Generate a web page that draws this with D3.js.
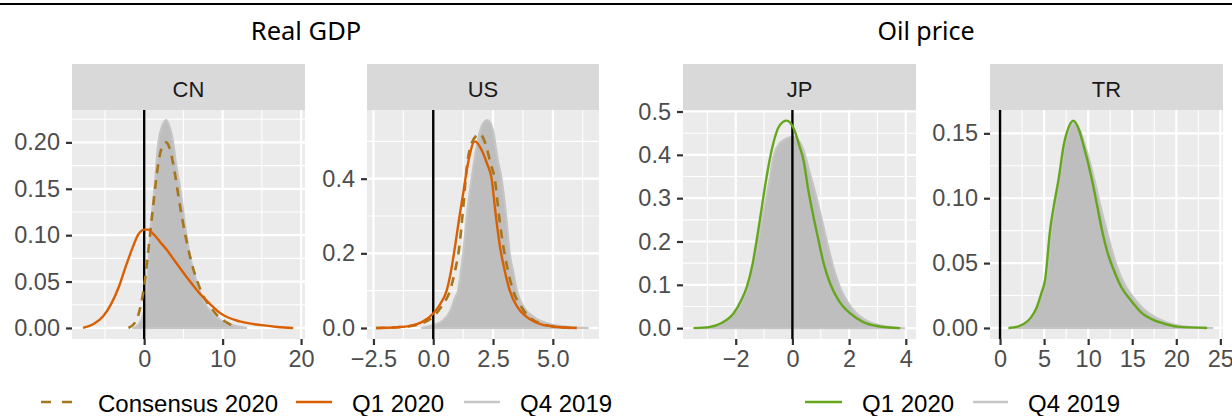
<!DOCTYPE html>
<html><head><meta charset="utf-8">
<script src="https://cdn.jsdelivr.net/npm/d3@7"></script>
<style>body{margin:0;background:#fff}svg{display:block}</style>
</head><body>
<svg id="c" width="1232" height="416"></svg>
<script>
// ---------------- DATA ----------------
const groupTitles = ["Real GDP", "Oil price"];
const panelNames = ["CN", "US", "JP", "TR"];
const legendLeft = ["Consensus 2020", "Q1 2020", "Q4 2019"];
const legendRight = ["Q1 2020", "Q4 2019"];

// tick values
const cnXTicks = [0, 10, 20];
const cnYTicks = [0, 0.05, 0.10, 0.15, 0.20];
const usXTicks = [-2.5, 0, 2.5, 5.0];
const usYTicks = [0, 0.2, 0.4];
const jpXTicks = [-2, 0, 2, 4];
const jpYTicks = [0, 0.1, 0.2, 0.3, 0.4, 0.5];
const trXTicks = [0, 5, 10, 15, 20, 25];
const trYTicks = [0, 0.05, 0.10, 0.15];

// CN densities [x, density]
const cnQ4 = [[-1.5,0],[-0.8,0.003],[-0.3,0.010],[0,0.020],[0.3,0.040],[0.5,0.065],[0.75,0.10],[1.0,0.125],[1.3,0.15],[1.8,0.20],[2.3,0.218],[2.8,0.224],[3.2,0.218],[3.7,0.20],[4.1,0.175],[4.6,0.15],[5.0,0.125],[5.4,0.10],[6.0,0.072],[6.7,0.05],[7.5,0.03],[8.5,0.018],[9.5,0.010],[11.0,0.004],[13.1,0]];
const cnCons = [[-2.0,0],[-1.0,0.008],[-0.5,0.022],[0,0.045],[0.4,0.073],[0.8,0.105],[1.1,0.128],[1.5,0.158],[1.8,0.177],[2.2,0.193],[2.8,0.200],[3.3,0.192],[3.9,0.167],[4.5,0.135],[5.2,0.102],[5.9,0.075],[6.7,0.052],[7.5,0.035],[8.4,0.023],[9.5,0.012],[10.5,0.006],[11.8,0]];
const cnQ1 = [[-7.8,0],[-6.5,0.004],[-5.2,0.013],[-4.2,0.026],[-3.2,0.045],[-2.4,0.065],[-1.5,0.086],[-0.8,0.100],[0,0.106],[0.5,0.106],[1.2,0.101],[2.0,0.093],[2.9,0.084],[4.0,0.071],[5.4,0.055],[7.1,0.037],[8.5,0.025],[9.7,0.016],[12.2,0.007],[15.0,0.003],[17.0,0.001],[19.0,0]];

// US densities
const usQ4 = [[-0.5,0],[0,0.008],[0.4,0.020],[0.7,0.045],[0.9,0.080],[1.03,0.100],[1.15,0.150],[1.25,0.200],[1.4,0.300],[1.6,0.400],[1.85,0.500],[2.05,0.545],[2.27,0.557],[2.5,0.530],[2.7,0.450],[2.86,0.400],[3.05,0.300],[3.2,0.200],[3.35,0.150],[3.5,0.100],[3.8,0.055],[4.2,0.030],[4.8,0.012],[5.5,0.004],[6.5,0]];
const usCons = [[-2.4,0],[-1.5,0.002],[-1.0,0.005],[-0.5,0.012],[0,0.030],[0.35,0.058],[0.7,0.100],[0.9,0.150],[1.09,0.218],[1.25,0.320],[1.39,0.423],[1.6,0.495],[1.95,0.520],[2.2,0.490],[2.4,0.440],[2.58,0.396],[2.75,0.300],[2.93,0.218],[3.1,0.160],[3.34,0.100],[3.7,0.055],[4.1,0.025],[4.6,0.010],[5.2,0.003],[5.9,0]];
const usQ1 = [[-2.37,0],[-1.5,0.002],[-1.0,0.005],[-0.5,0.015],[0,0.039],[0.3,0.065],[0.56,0.100],[0.75,0.155],[0.91,0.218],[1.1,0.300],[1.25,0.360],[1.45,0.440],[1.74,0.500],[2.0,0.480],[2.25,0.440],[2.44,0.400],[2.6,0.310],[2.79,0.218],[3.0,0.150],[3.2,0.100],[3.5,0.058],[3.9,0.030],[4.4,0.012],[5.0,0.004],[6.0,0]];

// JP densities
const jpQ4 = [[-3.4,0],[-2.9,0.003],[-2.5,0.010],[-2.1,0.030],[-1.8,0.058],[-1.6,0.088],[-1.4,0.140],[-1.2,0.203],[-1.0,0.275],[-0.81,0.342],[-0.67,0.396],[-0.4,0.430],[0.06,0.442],[0.4,0.410],[0.62,0.357],[0.78,0.320],[0.95,0.275],[1.21,0.203],[1.45,0.140],[1.68,0.095],[2.0,0.055],[2.27,0.034],[2.8,0.012],[3.3,0.004],[3.97,0]];
const jpQ1 = [[-3.49,0],[-2.9,0.003],[-2.5,0.012],[-2.08,0.034],[-1.8,0.065],[-1.61,0.095],[-1.4,0.150],[-1.26,0.203],[-1.1,0.270],[-0.93,0.342],[-0.7,0.420],[-0.45,0.468],[-0.2,0.479],[0.05,0.460],[0.25,0.420],[0.39,0.388],[0.56,0.319],[0.75,0.255],[0.92,0.203],[1.1,0.150],[1.33,0.103],[1.65,0.062],[2.04,0.034],[2.5,0.014],[2.98,0.005],[3.8,0]];

// TR densities
const trQ4 = [[1.0,0],[2.0,0.001],[2.7,0.003],[3.5,0.007],[4.2,0.015],[4.8,0.026],[5.2,0.037],[5.8,0.074],[6.3,0.097],[6.7,0.113],[7.3,0.138],[7.9,0.153],[8.4,0.158],[9.0,0.153],[9.6,0.142],[10.2,0.128],[10.8,0.112],[11.4,0.094],[12.1,0.0755],[12.7,0.060],[13.4,0.045],[14.2,0.033],[15.2,0.023],[16.4,0.014],[17.8,0.0075],[19.3,0.0035],[21.0,0.0012],[24.2,0]];
const trQ1 = [[0.95,0],[2.0,0.001],[2.65,0.003],[3.5,0.008],[4.17,0.016],[4.7,0.027],[5.11,0.037],[5.68,0.0755],[6.2,0.098],[6.63,0.114],[7.2,0.140],[7.8,0.155],[8.33,0.1597],[9.0,0.152],[9.5,0.140],[10.0,0.127],[10.5,0.112],[11.0,0.095],[11.56,0.0755],[12.2,0.058],[12.9,0.0447],[13.8,0.031],[14.8,0.0216],[16.0,0.012],[17.4,0.0062],[18.8,0.003],[20.1,0.001],[23.5,0]];

// ---------------- STYLE / LAYOUT ----------------
const C_CONS = "#A6761D", C_Q1GDP = "#D95F02", C_Q1OIL = "#66A61E", C_Q4 = "#BEBEBE", C_Q4LINE = "#C6C6C6";
const PT = 110, PB = 339, ST = 64;
const AX_FONT = "'Liberation Sans', Arial, sans-serif";

const panels = [
  {name: panelNames[0], x0: 72, x1: 305, xd: [-9.2, 20.5], yd: [-0.0119, 0.2349], xt: cnXTicks, yt: cnYTicks, xf: d3.format("d"), yf: d3.format(".2f"), q4: cnQ4, cons: cnCons, q1: cnQ1, q1c: C_Q1GDP},
  {name: panelNames[1], x0: 367, x1: 599, xd: [-2.77, 6.93], yd: [-0.0295, 0.584], xt: usXTicks, yt: usYTicks, xf: d3.format(".1f"), yf: d3.format(".1f"), q4: usQ4, cons: usCons, q1: usQ1, q1c: C_Q1GDP},
  {name: panelNames[2], x0: 683, x1: 916, xd: [-3.86, 4.36], yd: [-0.025, 0.5035], xt: jpXTicks, yt: jpYTicks, xf: d3.format("d"), yf: d3.format(".1f"), q4: jpQ4, cons: null, q1: jpQ1, q1c: C_Q1OIL},
  {name: panelNames[3], x0: 990, x1: 1223, xd: [-1.14, 25.3], yd: [-0.0085, 0.168], xt: trXTicks, yt: trYTicks, xf: d3.format("d"), yf: d3.format(".2f"), q4: trQ4, cons: null, q1: trQ1, q1c: C_Q1OIL}
];

const svg = d3.select("#c");
svg.append("rect").attr("width", 1232).attr("height", 416).attr("fill", "#fff");
svg.append("line").attr("x1", 0).attr("x2", 1232).attr("y1", 4).attr("y2", 4).attr("stroke", "#000").attr("stroke-width", 2);

// group titles
const TITLE_FONT = "'Noto Sans', 'Open Sans', sans-serif";
svg.append("text").attr("x", 306).attr("y", 40).attr("text-anchor", "middle")
  .attr("font-family", TITLE_FONT).attr("font-size", 25.5).attr("fill", "#000").text(groupTitles[0]);
svg.append("text").attr("x", 926).attr("y", 40).attr("text-anchor", "middle")
  .attr("font-family", TITLE_FONT).attr("font-size", 25).attr("fill", "#000").text(groupTitles[1]);

function minorsOf(ticks, domain) {
  const step = ticks[1] - ticks[0];
  const out = [];
  for (let v = ticks[0] - step / 2; v <= domain[1]; v += step) if (v >= domain[0]) out.push(v);
  for (let v = ticks[0] - step / 2 - step; v >= domain[0]; v -= step) out.push(v);
  return out;
}
function majorsOf(ticks, domain) {
  const step = ticks[1] - ticks[0];
  const out = ticks.slice();
  for (let v = ticks[0] - step; v >= domain[0]; v -= step) out.push(v);
  for (let v = ticks[ticks.length - 1] + step; v <= domain[1]; v += step) out.push(v);
  return out;
}

panels.forEach((p, i) => {
  const x = d3.scaleLinear().domain(p.xd).range([p.x0, p.x1]);
  const y = d3.scaleLinear().domain(p.yd).range([PB, PT]);
  const g = svg.append("g");
  const cid = "clip" + i;
  g.append("clipPath").attr("id", cid).append("rect").attr("x", p.x0).attr("y", PT).attr("width", p.x1 - p.x0).attr("height", PB - PT);
  g.append("rect").attr("x", p.x0).attr("y", PT).attr("width", p.x1 - p.x0).attr("height", PB - PT).attr("fill", "#EBEBEB");
  const grid = g.append("g").attr("clip-path", `url(#${cid})`);
  minorsOf(p.xt, p.xd).forEach(v => grid.append("line").attr("x1", x(v)).attr("x2", x(v)).attr("y1", PT).attr("y2", PB).attr("stroke", "#fff").attr("stroke-width", 1.1));
  minorsOf(p.yt, p.yd).forEach(v => grid.append("line").attr("y1", y(v)).attr("y2", y(v)).attr("x1", p.x0).attr("x2", p.x1).attr("stroke", "#fff").attr("stroke-width", 1.1));
  majorsOf(p.xt, p.xd).forEach(v => grid.append("line").attr("x1", x(v)).attr("x2", x(v)).attr("y1", PT).attr("y2", PB).attr("stroke", "#fff").attr("stroke-width", 2.2));
  majorsOf(p.yt, p.yd).forEach(v => grid.append("line").attr("y1", y(v)).attr("y2", y(v)).attr("x1", p.x0).attr("x2", p.x1).attr("stroke", "#fff").attr("stroke-width", 2.2));

  const area = d3.area().x(d => x(d[0])).y0(y(0)).y1(d => y(d[1])).curve(d3.curveMonotoneX);
  const line = d3.line().x(d => x(d[0])).y(d => y(d[1])).curve(d3.curveMonotoneX);
  const marks = g.append("g").attr("clip-path", `url(#${cid})`);
  marks.append("path").datum(p.q4).attr("d", area).attr("fill", C_Q4).attr("stroke", C_Q4LINE).attr("stroke-width", 2);
  marks.append("line").attr("x1", x(0)).attr("x2", x(0)).attr("y1", PT).attr("y2", PB).attr("stroke", "#000").attr("stroke-width", 2.4);
  if (p.cons) marks.append("path").datum(p.cons).attr("d", line).attr("fill", "none").attr("stroke", C_CONS).attr("stroke-width", 2.6).attr("stroke-dasharray", "9,7");
  marks.append("path").datum(p.q1).attr("d", line).attr("fill", "none").attr("stroke", p.q1c).attr("stroke-width", 2.4);

  // strip
  g.append("rect").attr("x", p.x0).attr("y", ST).attr("width", p.x1 - p.x0).attr("height", PT - ST).attr("fill", "#D9D9D9");
  g.append("text").attr("x", (p.x0 + p.x1) / 2).attr("y", 97).attr("text-anchor", "middle")
    .attr("font-family", AX_FONT).attr("font-size", 22).attr("fill", "#1A1A1A").text(p.name);

  // axes
  const ax = g.append("g").attr("transform", `translate(0,${PB})`).call(d3.axisBottom(x).tickValues(p.xt).tickFormat(p.xf).tickSize(6).tickPadding(5));
  const ay = g.append("g").attr("transform", `translate(${p.x0},0)`).call(d3.axisLeft(y).tickValues(p.yt).tickFormat(p.yf).tickSize(6).tickPadding(6));
  [ax, ay].forEach(a => {
    a.select(".domain").remove();
    a.selectAll(".tick line").attr("stroke", "#333").attr("stroke-width", 2.2);
    a.selectAll(".tick text").attr("font-family", AX_FONT).attr("font-size", 23.5).attr("fill", "#4D4D4D");
  });
});

// legends
const LEG_FONT = "'Liberation Sans', Arial, sans-serif";
const LY = 402;
function legItem(x1, x2, color, dash, label, tx) {
  const l = svg.append("line").attr("x1", x1).attr("x2", x2).attr("y1", LY).attr("y2", LY).attr("stroke", color).attr("stroke-width", 2.6);
  if (dash) l.attr("stroke-dasharray", dash);
  svg.append("text").attr("x", tx).attr("y", 412).attr("font-family", LEG_FONT).attr("font-size", 24).attr("fill", "#000").text(label);
}
legItem(41, 77, C_CONS, "10,11", legendLeft[0], 98);
legItem(296, 332, C_Q1GDP, null, legendLeft[1], 352);
legItem(464, 500, C_Q4LINE, null, legendLeft[2], 520);
legItem(805, 842, C_Q1OIL, null, legendRight[0], 862);
legItem(973, 1008, C_Q4LINE, null, legendRight[1], 1028);
</script>
</body></html>
